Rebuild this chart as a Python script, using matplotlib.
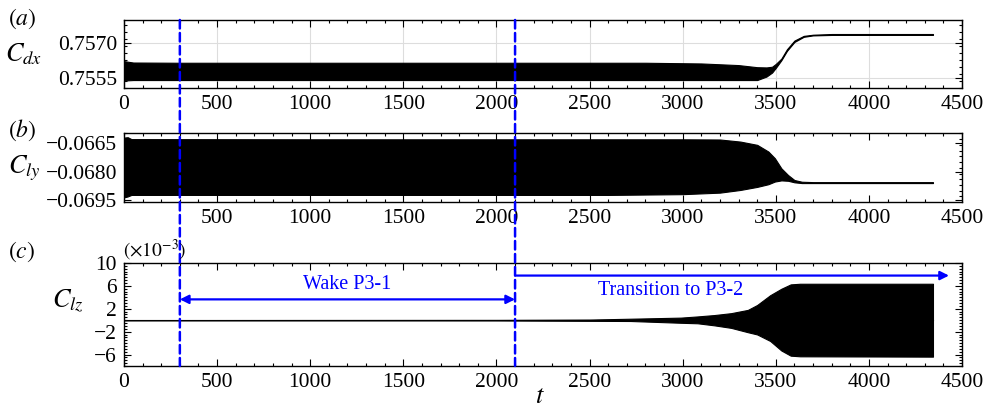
import numpy as np
import matplotlib
matplotlib.use('Agg')
import matplotlib.pyplot as plt
from matplotlib.patches import ConnectionPatch
from matplotlib.ticker import MultipleLocator

plt.rcParams['font.family'] = ['Liberation Serif', 'DejaVu Serif']
plt.rcParams['mathtext.fontset'] = 'stix'

# Envelopes of the force coefficient histories (upper / lower bounds of the oscillation)
cdx_t = [0, 50, 300, 1000, 2000, 2800, 3100, 3300, 3400, 3450, 3480, 3500, 3530, 3560, 3600, 3650, 3700, 3800, 4344]
cdx_hi = [0.75624, 0.75618, 0.75617, 0.75617, 0.75617, 0.75617, 0.75614, 0.75607, 0.75598, 0.75597, 0.75600,
          0.75612, 0.75635, 0.75675, 0.75712, 0.75732, 0.75737, 0.75740, 0.75740]
cdx_lo = [0.75541, 0.75543, 0.75543, 0.75543, 0.75543, 0.75543, 0.75543, 0.75543, 0.75543, 0.75558, 0.75575,
          0.75595, 0.75628, 0.75668, 0.75706, 0.75728, 0.75734, 0.75736, 0.75736]

cly_t = [0, 20, 40, 1000, 2000, 2600, 3000, 3200, 3310, 3400, 3460, 3495, 3530, 3566, 3600, 3640, 3700, 4344]
cly_hi = [-0.06622, -0.06620, -0.06630, -0.06631, -0.06631, -0.06631, -0.06631, -0.06632, -0.06643, -0.06660,
          -0.06695, -0.06730, -0.06783, -0.06818, -0.06844, -0.06853, -0.06855, -0.06855]
cly_lo = [-0.06935, -0.06930, -0.06922, -0.06922, -0.06922, -0.06922, -0.06918, -0.06910, -0.06896, -0.06880,
          -0.06866, -0.06852, -0.06846, -0.06848, -0.06856, -0.06860, -0.06860, -0.06860]

clz_t = [0, 2000, 2500, 2720, 2990, 3080, 3170, 3260, 3350, 3400, 3470, 3530, 3580, 3630, 4344]
clz_hi = [0.02, 0.05, 0.11, 0.26, 0.45, 0.66, 0.90, 1.23, 1.80, 2.66, 4.37, 5.50, 6.26, 6.37, 6.37]
clz_lo = [-0.02, -0.05, -0.11, -0.14, -0.45, -0.54, -0.90, -1.34, -2.10, -2.49, -3.63, -5.30, -6.20, -6.31, -6.37]

t_wake = 300
t_trans = 2100
t_arrow_end = 4430

fig = plt.figure(figsize=(9.87, 4.12), dpi=100)
ax1 = fig.add_axes([0.1256, 0.7864, 0.8491, 0.1651])
ax2 = fig.add_axes([0.1256, 0.5097, 0.8491, 0.1675])
ax3 = fig.add_axes([0.1256, 0.1117, 0.8491, 0.2500])

ax1.fill_between(cdx_t, cdx_lo, cdx_hi, color='black', lw=0.8)
ax2.fill_between(cly_t, cly_lo, cly_hi, color='black', lw=0.8)
ax3.plot([0, 4344], [0, 0], color='black', lw=0.8)
ax3.fill_between(clz_t, clz_lo, clz_hi, color='black', lw=0.8)

for ax in (ax1, ax2, ax3):
    ax.set_xlim(0, 4500)
    ax.xaxis.set_minor_locator(MultipleLocator(100))
    ax.tick_params(which='both', direction='in', top=True, right=True, labelsize=15.5, width=0.8)
    ax.tick_params(which='major', length=5, pad=5)
    ax.tick_params(which='minor', length=2.5)
    for s in ax.spines.values():
        s.set_linewidth(1.0)

ax1.set_ylim(0.75509, 0.7580)
ax1.set_xticks(range(0, 4501, 500))
ax1.set_yticks([0.7555, 0.7570])
ax1.set_yticklabels(['0.7555', '0.7570'])
ax1.yaxis.set_minor_locator(MultipleLocator(0.0003))
ax1.grid(True, which='major', color='#dddddd', lw=0.8)
ax1.set_axisbelow(True)

ax2.set_ylim(-0.06959, -0.06598)
ax2.set_xticks(range(500, 4501, 500))
ax2.set_yticks([-0.0695, -0.0680, -0.0665])
ax2.set_yticklabels(['\u22120.0695', '\u22120.0680', '\u22120.0665'])
ax2.yaxis.set_minor_locator(MultipleLocator(0.0003))

ax3.set_ylim(-8, 10)
ax3.set_xticks(range(0, 4501, 500))
ax3.set_yticks([-6, -2, 2, 6, 10])
ax3.set_yticklabels(['\u22126', '\u22122', '2', '6', '10'])
ax3.yaxis.set_minor_locator(MultipleLocator(0.5))

# panel tags and axis labels
fig.text(22 / 987, 1 - 19 / 412, r'$(a)$', fontsize=17, ha='center', va='center')
fig.text(22 / 987, 1 - 130 / 412, r'$(b)$', fontsize=17, ha='center', va='center')
fig.text(22 / 987, 1 - 252 / 412, r'$(c)$', fontsize=17, ha='center', va='center')
fig.text(24 / 987, 1 - 54 / 412, r'$C_{dx}$', fontsize=19, ha='center', va='center')
fig.text(24 / 987, 1 - 168 / 412, r'$C_{ly}$', fontsize=19, ha='center', va='center')
fig.text(68 / 987, 1 - 301 / 412, r'$C_{lz}$', fontsize=19, ha='center', va='center')
fig.text(155 / 987, 1 - 250 / 412, r'$(\times10^{-3})$', fontsize=14, ha='center', va='center')
ax3.text(0.496, -0.30, r'$t$', fontsize=19, ha='center', va='center', transform=ax3.transAxes)

# regime markers
blue = '#0000ff'
for tv in (t_wake, t_trans):
    con = ConnectionPatch(xyA=(tv, 0.7580), coordsA=ax1.transData,
                          xyB=(tv, -8), coordsB=ax3.transData,
                          color=blue, lw=1.8, linestyle=(0, (3.4, 1.8)))
    fig.add_artist(con)

ax3.annotate('', xy=(t_trans, 3.64), xytext=(t_wake, 3.64),
             arrowprops=dict(arrowstyle='<|-|>', color=blue, lw=1.6, mutation_scale=13, shrinkA=0, shrinkB=0))
ax3.annotate('', xy=(t_arrow_end, 7.8), xytext=(t_trans, 7.8),
             arrowprops=dict(arrowstyle='-|>', color=blue, lw=1.6, mutation_scale=13, shrinkA=0, shrinkB=0))
ax3.text(1200, 6.2, 'Wake P3-1', color=blue, fontsize=14.5, ha='center', va='center')
ax3.text(2935, 5.2, 'Transition to P3-2', color=blue, fontsize=14.5, ha='center', va='center')

fig.savefig('out.png', dpi=100)
